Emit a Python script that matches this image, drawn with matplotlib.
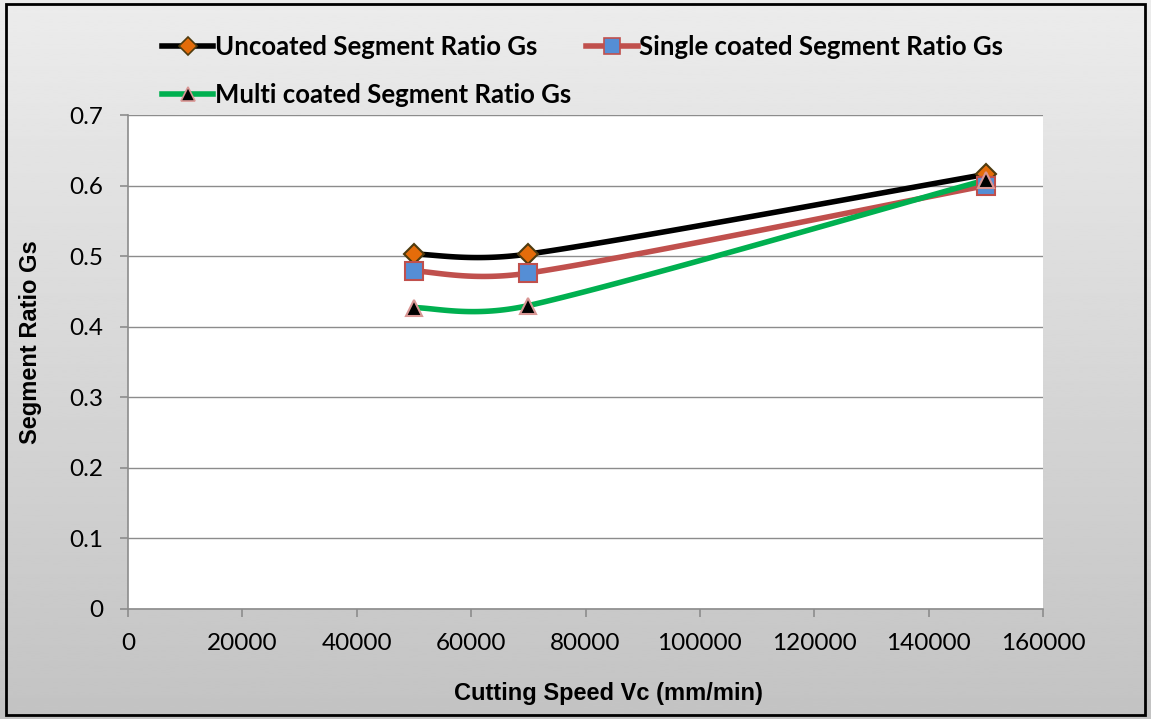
import numpy as np
import matplotlib.pyplot as plt
from matplotlib.lines import Line2D
from matplotlib.patches import Rectangle

# data
speed = [50000, 70000, 150000]
uncoated = [0.503, 0.503, 0.616]
single = [0.479, 0.476, 0.600]
multi = [0.427, 0.430, 0.608]

labels = ["Uncoated Segment Ratio Gs", "Single coated Segment Ratio Gs",
          "Multi coated Segment Ratio Gs"]
line_colors = ["#000000", "#c0504d", "#00b050"]
markers = ["D", "s", "^"]
face_colors = ["#e46c0a", "#558ed5", "#000000"]
edge_colors = ["#4f3b0f", "#c0504d", "#d99694"]
msizes = [10, 13, 11]


def smooth(ax, xs, ys, n=40):
    # Excel-style smoothed line: Bezier through the points in display space,
    # tangent length limited to half the segment length
    pts = ax.transData.transform(np.column_stack([xs, ys]))
    out = []
    for i in range(len(pts) - 1):
        p0 = pts[max(i - 1, 0)]
        p1 = pts[i]
        p2 = pts[i + 1]
        p3 = pts[min(i + 2, len(pts) - 1)]
        seg_len = np.hypot(*(p2 - p1))
        t1 = (p2 - p0) / 6
        t2 = (p3 - p1) / 6
        for tv in (t1, t2):
            ln = np.hypot(*tv)
            if ln > 0.5 * seg_len:
                tv *= 0.5 * seg_len / ln
        c1 = p1 + t1
        c2 = p2 - t2
        t = np.linspace(0, 1, n)[:, None]
        seg = ((1 - t) ** 3 * p1 + 3 * (1 - t) ** 2 * t * c1
               + 3 * (1 - t) * t ** 2 * c2 + t ** 3 * p2)
        out.append(seg if i == 0 else seg[1:])
    out = np.vstack(out)
    return ax.transData.inverted().transform(out)


fig = plt.figure(figsize=(11.51, 7.19), dpi=100)

# gradient background
bg = fig.add_axes([0, 0, 1, 1], zorder=-10)
grad = np.linspace(0.925, 0.765, 256)[:, None]
bg.imshow(grad, aspect="auto", cmap="gray", vmin=0, vmax=1,
          extent=[0, 1, 0, 1], origin="upper")
bg.set_xlim(0, 1)
bg.set_ylim(0, 1)
bg.axis("off")
bg.add_patch(Rectangle((0.005, 0.006), 0.99, 0.988, fill=False,
                       edgecolor="black", linewidth=2.0))

ax = fig.add_axes([0.1112, 0.153, 0.795, 0.687])
ax.set_xlim(0, 160000)
ax.set_ylim(0, 0.7)
ax.set_xticks(np.arange(0, 160001, 20000))
ax.set_yticks(np.arange(0, 0.71, 0.1))
ax.set_yticklabels(["0", "0.1", "0.2", "0.3", "0.4", "0.5", "0.6", "0.7"])
ax.grid(axis="y", color="#8c8c8c", linewidth=1)
ax.set_axisbelow(True)
for s in ["top", "right"]:
    ax.spines[s].set_visible(False)
for s in ["left", "bottom"]:
    ax.spines[s].set_color("#8c8c8c")
    ax.spines[s].set_linewidth(1.2)
ax.tick_params(colors="#8c8c8c", labelcolor="black", labelsize=17.5,
               length=6, width=1.2, direction="out")
ax.tick_params(axis="x", pad=11)
ax.tick_params(axis="y", pad=12)
for t in ax.get_xticklabels() + ax.get_yticklabels():
    t.set_fontfamily(["Lato", "DejaVu Sans"])

series = [uncoated, single, multi]
handles = []
for ys, lc, mk, fc, ec, ms in zip(series, line_colors, markers,
                                  face_colors, edge_colors, msizes):
    cur = smooth(ax, speed, ys)
    ax.plot(cur[:, 0], cur[:, 1], color=lc, linewidth=4, solid_capstyle="round",
            zorder=3)
    ax.plot(speed, ys, linestyle="none", marker=mk, markersize=ms,
            markerfacecolor=fc, markeredgecolor=ec, markeredgewidth=1.5,
            zorder=4)
    handles.append(Line2D([], [], color=lc, linewidth=4, marker=mk,
                          markersize=ms * 0.9, markerfacecolor=fc,
                          markeredgecolor=ec, markeredgewidth=1.2))

ax.set_xlabel("Cutting Speed Vc (mm/min)", fontsize=17, fontweight="bold",
              fontfamily="Liberation Sans", labelpad=18)
ax.xaxis.set_label_coords(0.525, -0.148)
ax.set_ylabel("Segment Ratio Gs", fontsize=17, fontweight="bold",
              fontfamily="Liberation Sans")
ax.yaxis.set_label_coords(-0.094, 0.54)

# column-major fill: uncoated + multi in column 1, single in column 2
order = [0, 2, 1]
fig.legend(handles=[handles[i] for i in order],
           labels=[labels[i] for i in order], loc="upper left",
           bbox_to_anchor=(0.1207, 0.984), ncol=2, frameon=False,
           prop={"family": ["Lato", "DejaVu Sans"], "weight": "bold",
                 "size": 18.5},
           handlelength=2.0, handletextpad=0.05, columnspacing=0.6,
           labelspacing=0.95)

fig.savefig("out.png", dpi=100)
